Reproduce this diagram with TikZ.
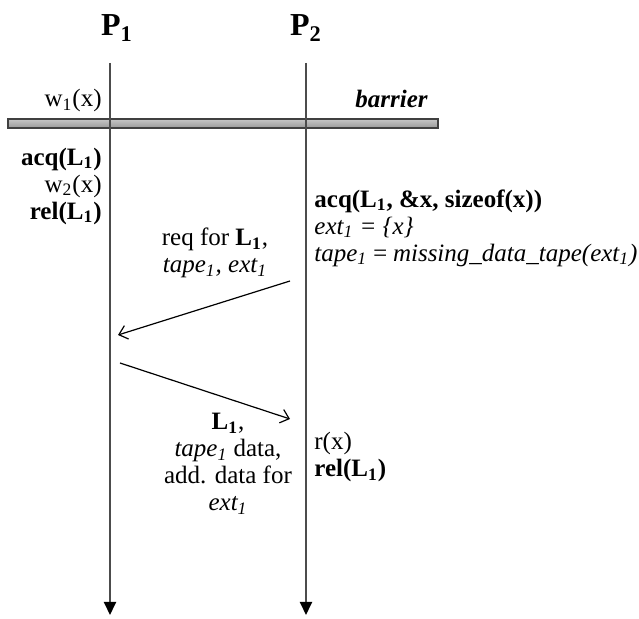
\documentclass[tikz,border=0pt]{standalone}
\usepackage{fontspec}
\setmainfont{Liberation Serif}
\usetikzlibrary{arrows.meta, positioning}

\begin{document}
\begin{tikzpicture}[
  x=0.5pt, y=-0.5pt,
  txt/.style={inner sep=0pt, font=\fontsize{12.5}{13.5}\selectfont},
  proc/.style={inner sep=0pt, font=\fontsize{16}{18}\selectfont\bfseries},
  life/.style={line width=1pt, draw=black!70, -{Triangle[length=6.5pt, width=6pt, color=black]}},
  msg/.style={line width=0.6pt, -{Straight Barb[length=4pt, width=7pt]}},
  bar/.style={draw=black!75, line width=0.8pt, top color=gray!45, bottom color=gray!80}
]
  \useasboundingbox (0,0) rectangle (639,619);

  % barrier
  \draw[bar] (8,119) rectangle (438,128);
  \node[txt, anchor=base east] (barlbl) at (428,108) {\bfseries\itshape barrier};

  % processes
  \node[proc, anchor=base] (p1) at (117,36) {P\textsubscript{1}};
  \node[proc, anchor=base] (p2) at (306,36) {P\textsubscript{2}};
  \coordinate (p1top) at (110,63);
  \coordinate (p1end) at (110,615);
  \coordinate (p2top) at (306,63);
  \coordinate (p2end) at (306,615);
  \draw[life] (p1top) -- (p1end);
  \draw[life] (p2top) -- (p2end);

  % P1 side
  \node[txt, anchor=base east] (w1) at (102,107) {w\textsubscript{1}(x)};
  \node[txt, anchor=east, align=right] (crit1) at (102,186)
    {\textbf{acq(L\textsubscript{1})}\\ w\textsubscript{2}(x)\\ \textbf{rel(L\textsubscript{1})}};

  % P2 side
  \node[txt, anchor=west, align=left] (acq2) at (314,228)
    {\textbf{acq(L\textsubscript{1}, \&x, sizeof(x))}\\
     \textit{ext\textsubscript{1} = \{x\}}\\
     \textit{tape\textsubscript{1}\hspace{0.18em}=\hspace{0.18em}missing\_data\_tape(ext\textsubscript{1})}};
  \node[txt, anchor=west, align=left] (crit2) at (314,457)
    {r(x)\\ \textbf{rel(L\textsubscript{1})}};

  % messages
  \coordinate (req0) at (290,281);
  \coordinate (req1) at (118,335);
  \coordinate (grant0) at (120,363);
  \coordinate (grant1) at (290,419);
  \draw[msg] (req0) -- (req1);
  \draw[msg] (grant0) -- (grant1);
  \node[txt, align=center] (reqlbl) at (215,253)
    {req for \textbf{L\textsubscript{1}},\\ \textit{tape\textsubscript{1}, ext\textsubscript{1}}};
  \node[txt, align=center] (grantlbl) at (228,464)
    {\textbf{L\textsubscript{1}},\\ \textit{tape\textsubscript{1}} data,\\ add. data for\\ \textit{ext\textsubscript{1}}};
\end{tikzpicture}
\end{document}
